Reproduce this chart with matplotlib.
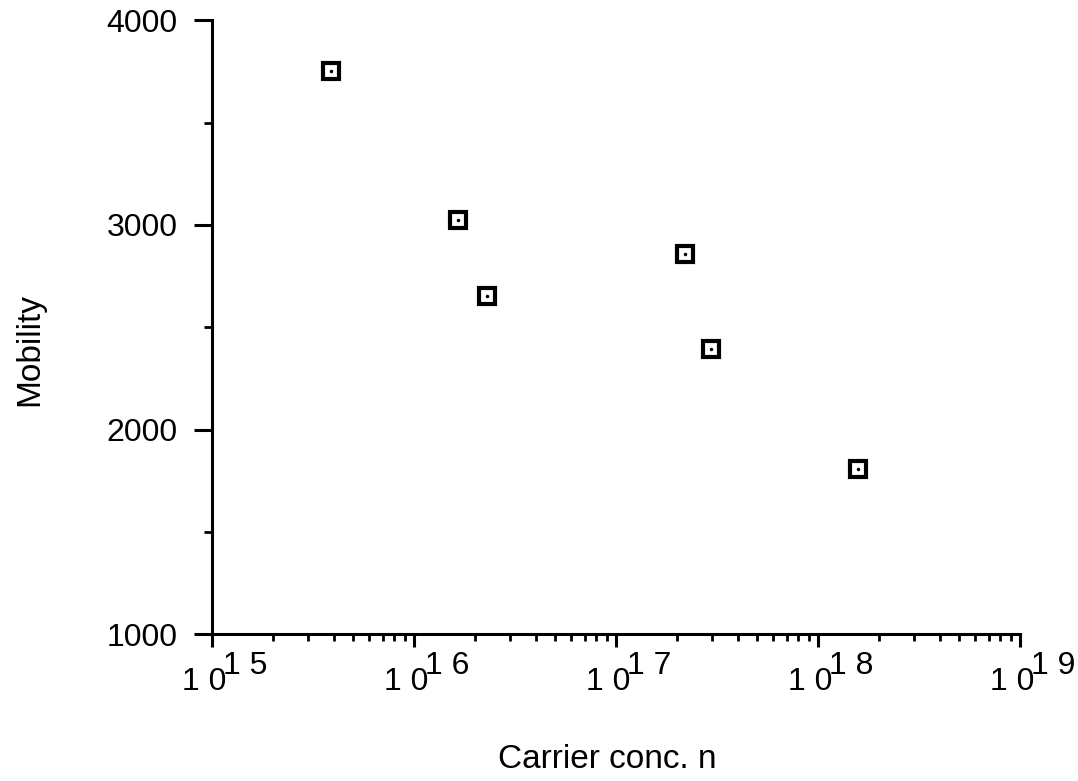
import numpy as np
import matplotlib
matplotlib.use('Agg')
import matplotlib.pyplot as plt
import matplotlib.transforms as mtransforms
from matplotlib.ticker import LogLocator, FixedLocator, NullFormatter

# values
carrier_conc = [3.9e15, 1.65e16, 2.3e16, 2.2e17, 2.95e17, 1.57e18]
mobility = [3750, 3022, 2651, 2856, 2392, 1806]
decades = [15, 16, 17, 18, 19]
y_major = [1000, 2000, 3000, 4000]
y_minor = [1500, 2500, 3500]

plt.rcParams['font.family'] = ['Liberation Sans', 'DejaVu Sans']

fig = plt.figure(figsize=(10.78, 7.81), dpi=100)
ax = fig.add_axes([0.1967, 0.188, 0.7495, 0.786])

ax.plot(carrier_conc, mobility, ls='none', marker='s', ms=12, mfc='white',
        mec='black', mew=3)
ax.plot(carrier_conc, mobility, ls='none', marker='.', ms=3, color='black')

ax.set_xscale('log')
ax.set_xlim(1e15, 1e19)
ax.set_ylim(1000, 4000)

ax.xaxis.set_major_locator(FixedLocator([10.0 ** d for d in decades]))
ax.xaxis.set_minor_locator(LogLocator(base=10, subs=np.arange(2, 10), numticks=10))
ax.xaxis.set_major_formatter(NullFormatter())
ax.xaxis.set_minor_formatter(NullFormatter())
ax.yaxis.set_major_locator(FixedLocator(y_major))
ax.yaxis.set_minor_locator(FixedLocator(y_minor))

for s in ['top', 'right']:
    ax.spines[s].set_visible(False)
for s in ['left', 'bottom']:
    ax.spines[s].set_linewidth(2.2)

ax.tick_params(axis='y', which='major', direction='out', length=13, width=2.2,
               labelsize=23, pad=12)
ax.tick_params(axis='y', which='minor', direction='out', length=6, width=2)
ax.tick_params(axis='x', which='major', direction='out', length=9, width=2.2)
ax.tick_params(axis='x', which='minor', direction='out', length=5, width=2)

# decade labels: "1 0" with a raised "1 5" written at the same size
trans = ax.get_xaxis_transform()
for d in decades:
    base = trans + mtransforms.ScaledTranslation(14 / 100, -56 / 100, fig.dpi_scale_trans)
    ax.text(10.0 ** d, 0, '1 0', transform=base, ha='right', va='baseline',
            fontsize=23)
    sup = trans + mtransforms.ScaledTranslation(11 / 100, -40 / 100, fig.dpi_scale_trans)
    ax.text(10.0 ** d, 0, '1 %d' % (d % 10), transform=sup, ha='left',
            va='baseline', fontsize=23)

fig.text(0.028, 0.552, 'Mobility', rotation=90, ha='center', va='center', fontsize=24)
fig.text(0.563, 0.027, 'Carrier conc. n', ha='center', va='center', fontsize=24)

fig.savefig('out.png', dpi=100, facecolor='white')
